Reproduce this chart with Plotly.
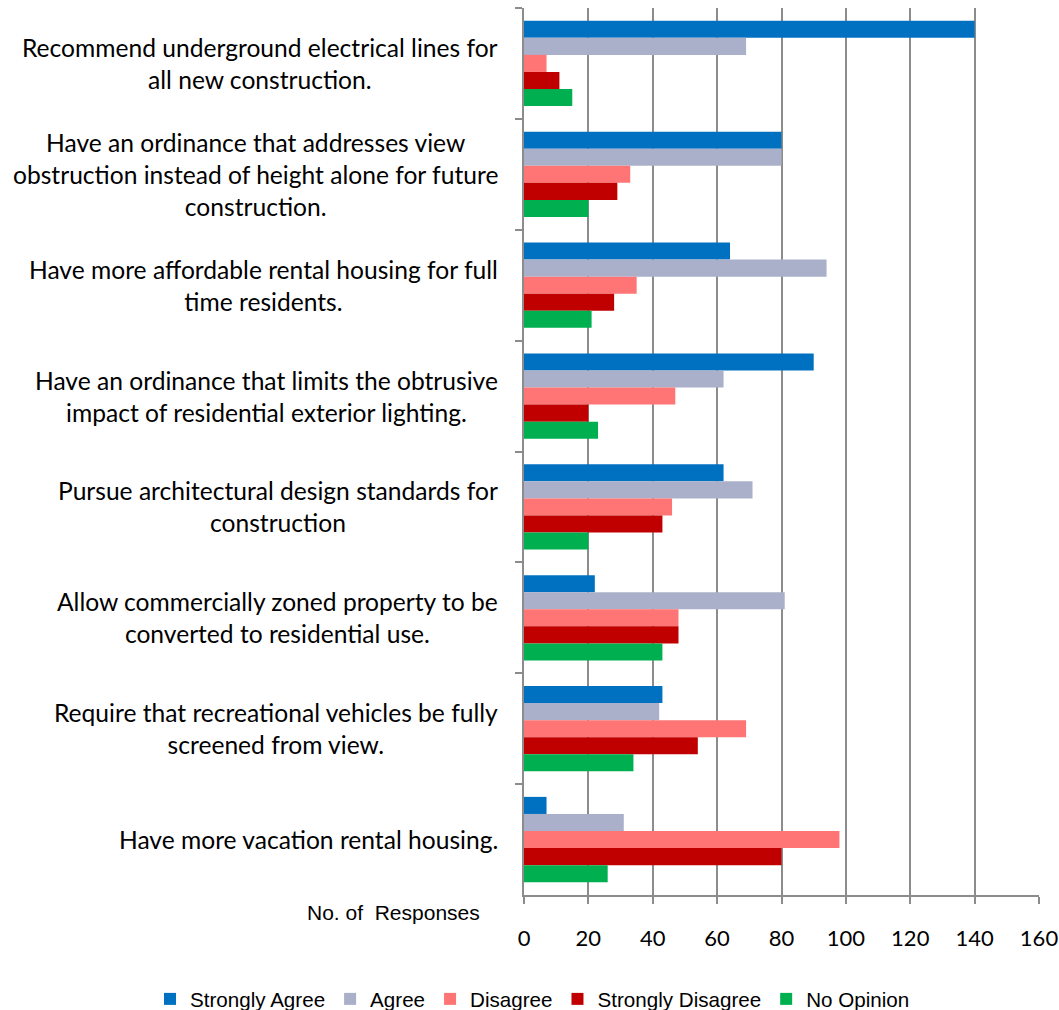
import plotly.graph_objects as go

categories = [
    "Recommend underground electrical lines for<br>all new construction.",
    "Have an ordinance that addresses view<br>obstruction instead of height alone for future<br>construction.",
    "Have more affordable rental housing for full<br>time residents.",
    "Have an ordinance that limits the obtrusive<br>impact of residential exterior lighting.",
    "Pursue architectural design standards for<br>construction",
    "Allow commercially zoned property to be<br>converted to residential use.",
    "Require that recreational vehicles be fully<br>screened from view.",
    "Have more vacation rental housing.",
]
cat_keys = [f"c{i}" for i in range(len(categories))]

series_names = ["Strongly Agree", "Agree", "Disagree", "Strongly Disagree", "No Opinion"]
strongly_agree = [140, 80, 64, 90, 62, 22, 43, 7]
agree = [69, 80, 94, 62, 71, 81, 42, 31]
disagree = [7, 33, 35, 47, 46, 48, 69, 98]
strongly_disagree = [11, 29, 28, 20, 43, 48, 54, 80]
no_opinion = [15, 20, 21, 23, 20, 43, 34, 26]
series_values = [strongly_agree, agree, disagree, strongly_disagree, no_opinion]
colors = ["#0070C0", "#AAB0CA", "#FF7575", "#C00000", "#00B050"]

x_ticks = [0, 20, 40, 60, 80, 100, 120, 140, 160]

W, H = 1059, 1010
L, R, T, B = 524, 20, 8, 115
PW, PH = W - L - R, H - T - B

fig = go.Figure()
for name, vals, col in zip(series_names, series_values, colors):
    fig.add_trace(go.Bar(
        y=cat_keys, x=vals, name=name, orientation="h",
        marker=dict(color=col, line=dict(width=0)),
    ))

for key, label in zip(cat_keys, categories):
    fig.add_annotation(
        x=(500 - L) / PW, xref="paper", y=key, yref="y",
        text=label, showarrow=False, xanchor="right", yanchor="middle",
        align="center", font=dict(family="Lato", size=24.6, color="#000000"),
    )

fig.add_annotation(
    x=(482 - L) / PW, xref="paper", y=-(913 - (H - B)) / PH, yref="paper",
    text="No. of  Responses", showarrow=False, xanchor="right", yanchor="middle",
    font=dict(family="Liberation Sans", size=21, color="#000000"),
)

fig.update_layout(
    width=W, height=H,
    barmode="group", bargap=0.23, bargroupgap=0,
    plot_bgcolor="white", paper_bgcolor="white",
    margin=dict(l=L, r=R, t=T, b=B, autoexpand=False),
    legend=dict(orientation="h", x=(150 - L) / PW, xanchor="left",
                y=-(999 - (H - B)) / PH, yanchor="middle",
                font=dict(family="Liberation Sans", size=20.6, color="#000000"),
                itemwidth=30, traceorder="normal", tracegroupgap=0),
    xaxis=dict(range=[0, 160], tickvals=x_ticks, showgrid=True, gridcolor="#8C8C8C",
               gridwidth=1.5, showline=True, linecolor="#8C8C8C", linewidth=1.5,
               ticks="outside", ticklen=7, tickcolor="#8C8C8C", tickwidth=1.5,
               zeroline=False,
               tickfont=dict(family="Lato", size=22, color="#000000"),
               ticklabelstandoff=16, fixedrange=True),
    yaxis=dict(categoryorder="array", categoryarray=cat_keys, autorange="reversed",
               showticklabels=False, showline=True, linecolor="#8C8C8C", linewidth=1.5,
               ticks="outside", ticklen=7, tickcolor="#8C8C8C", tickwidth=1.5,
               tickson="boundaries", showgrid=False, fixedrange=True),
    showlegend=True,
)

fig.write_html("out.html", config={"displayModeBar": False},
               post_script="document.body.style.margin='0';document.body.style.overflow='hidden';")
